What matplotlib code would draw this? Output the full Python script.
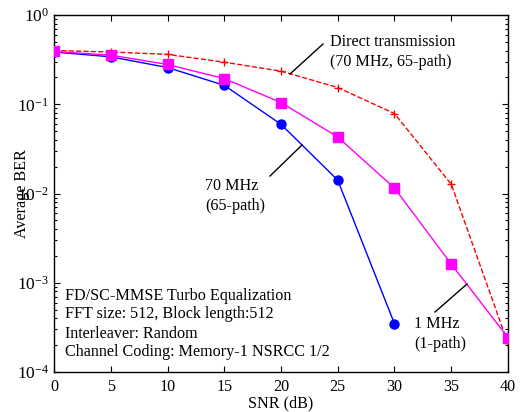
import numpy as np
import matplotlib
matplotlib.use("Agg")
import matplotlib.pyplot as plt
from matplotlib.ticker import LogLocator, NullFormatter

# -----------------------------
# Data
# -----------------------------
snr = [0, 5, 10, 15, 20, 25, 30, 35, 40]

ber_70mhz = [0.385, 0.34, 0.258, 0.163, 0.0596, 0.0141, 3.47e-4]
ber_1mhz = [0.39, 0.355, 0.279, 0.194, 0.1045, 0.043, 0.0115, 1.62e-3, 2.43e-4]
ber_direct = [0.40, 0.385, 0.362, 0.296, 0.235, 0.154, 0.0786, 0.0127, 2.09e-4]

info_lines = [
    "FD/SC-MMSE Turbo Equalization",
    "FFT size: 512, Block length:512",
    "Interleaver: Random",
    "Channel Coding: Memory-1 NSRCC 1/2",
]

# -----------------------------
# Style
# -----------------------------
plt.rcParams['font.family'] = ['Liberation Serif', 'DejaVu Serif']
plt.rcParams['mathtext.fontset'] = 'custom'
plt.rcParams['mathtext.rm'] = 'Liberation Serif'
plt.rcParams['mathtext.it'] = 'Liberation Serif:italic'
plt.rcParams['font.size'] = 11.6

fig = plt.figure(figsize=(5.23, 4.12), dpi=100)
ax = fig.add_axes([0.1033, 0.097, 0.868, 0.8666])

# -----------------------------
# Curves
# -----------------------------
ax.plot(snr[:len(ber_70mhz)], ber_70mhz, '-o', color=(0, 0, 1), lw=1.0,
        ms=6.5, mfc=(0, 0, 1), mec=(0, 0, 1), zorder=3)
ax.plot(snr, ber_1mhz, '-s', color=(1, 0, 1), lw=1.0,
        ms=6.5, mfc=(1, 0, 1), mec=(1, 0, 1), zorder=3)
ax.plot(snr, ber_direct, '--+', color=(1, 0, 0), lw=1.0,
        ms=6, mew=1.0, zorder=2)

ax.set_yscale('log')
ax.set_xlim(0, 40)
ax.set_ylim(1e-4, 1)
ax.set_xticks(range(0, 41, 5))
ax.yaxis.set_major_locator(LogLocator(base=10, numticks=10))
ax.yaxis.set_minor_locator(LogLocator(base=10, subs=np.arange(2, 10), numticks=20))
ax.yaxis.set_minor_formatter(NullFormatter())

ax.tick_params(which='both', direction='in', top=True, right=True, width=0.8)
ax.tick_params(which='major', length=4)
ax.tick_params(axis='y', which='major', labelsize=12.5)
ax.tick_params(which='minor', length=2)
ax.tick_params(axis='x', pad=5)
for sp in ax.spines.values():
    sp.set_linewidth(1.0)

ax.set_xlabel("SNR (dB)", labelpad=0)
ax.set_ylabel("Average BER")
ax.yaxis.set_label_coords(-0.053, 0.5)

# -----------------------------
# Annotations
# -----------------------------
def px(x, y):
    # pixel position in figure -> figure fraction
    return (x / 523.0, 1 - y / 412.0)

fig.text(*px(330, 52), "Direct transmission\n(70 MHz, 65-path)",
         ha='left', va='center', linespacing=1.25)
fig.add_artist(plt.Line2D(*zip(px(323, 44), px(290, 74)), color='k', lw=1.0))

fig.text(*px(205, 196), "70 MHz\n(65-path)",
         ha='left', va='center', linespacing=1.25)
fig.add_artist(plt.Line2D(*zip(px(270, 176), px(302, 145)), color='k', lw=1.0))

fig.text(*px(414, 334), "1 MHz\n(1-path)",
         ha='left', va='center', linespacing=1.25)
fig.add_artist(plt.Line2D(*zip(px(435, 312), px(467, 284)), color='k', lw=1.0))

fig.text(*px(65, 324), "\n".join(info_lines),
         ha='left', va='center', linespacing=1.25)

fig.savefig("out.png", dpi=100)
